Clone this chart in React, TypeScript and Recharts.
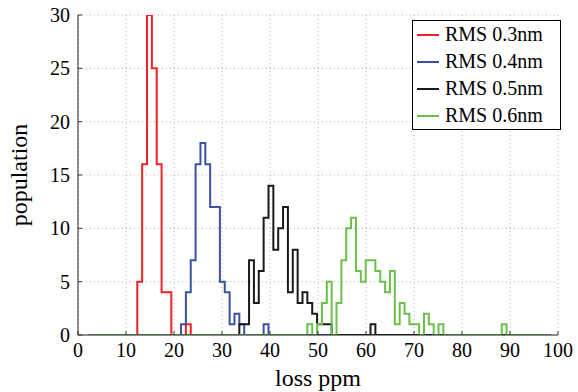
import React from 'react';
import { LineChart, Line, XAxis, YAxis, CartesianGrid, Legend } from 'recharts';

const FONT = '"Liberation Serif", "Times New Roman", serif';

// Histogram bin grid (x of left edge of bin k = BIN_START + k * BIN_WIDTH)
const BIN_START = 2.23;
const BIN_WIDTH = 1.0123;
const BIN_COUNT = 95;

const xTicks = [0, 10, 20, 30, 40, 50, 60, 70, 80, 90, 100];
const yTicks = [0, 5, 10, 15, 20, 25, 30];

const seriesKeys = ['r03', 'r04', 'r05', 'r06'];
const seriesNames = ['RMS 0.3nm', 'RMS 0.4nm', 'RMS 0.5nm', 'RMS 0.6nm'];
const seriesColors = ['#ec2227', '#3a53a6', '#1a1a1a', '#6cc04a'];

const redFirstBin = 10;
const redCounts = [5, 16, 30, 25, 16, 4, 4, 0, 0, 0, 1];

const blueFirstBin = 19;
const blueCounts = [1, 4, 7, 16, 18, 16, 12, 12, 5, 4, 1, 2, 1, 0, 0, 0, 0, 1];

const blackFirstBin = 31;
const blackCounts = [1, 1, 7, 3, 6, 11, 14, 8, 10, 12, 4, 8, 3, 4, 3, 2, 1, 1, 1, 0, 0, 0, 0, 0, 0, 0, 0, 1];

const greenFirstBin = 45;
const greenCounts = [1, 0, 1, 3, 5, 0, 3, 7, 10, 11, 6, 5, 7, 7, 6, 5, 4, 6, 1, 3, 2, 1, 1, 0, 2, 1, 0, 1,
  0, 0, 0, 0, 0, 0, 0, 0, 0, 0, 0, 0, 1];

const seriesFirst = [redFirstBin, blueFirstBin, blackFirstBin, greenFirstBin];
const seriesCounts = [redCounts, blueCounts, blackCounts, greenCounts];

const countAt = (s: number, k: number) => {
  const i = k - seriesFirst[s];
  const arr = seriesCounts[s];
  return i >= 0 && i < arr.length ? arr[i] : 0;
};

const data = Array.from({ length: BIN_COUNT + 1 }, (_, k) => {
  const row: Record<string, number> = { x: BIN_START + k * BIN_WIDTH };
  seriesKeys.forEach((key, s) => {
    row[key] = k < BIN_COUNT ? countAt(s, k) : 0;
  });
  return row;
});

const W = 578;
const H = 392;
const PLOT_LEFT = 78;
const PLOT_RIGHT = 558;
const PLOT_TOP = 15;
const PLOT_BOTTOM = 335;
const TICK_LEN = 4;

const bottomTick = (p: any) => (
  <g>
    <line x1={p.x} x2={p.x} y1={PLOT_BOTTOM} y2={PLOT_BOTTOM - TICK_LEN} stroke="#333" strokeWidth={1} />
    <text x={p.x} y={p.y} dy="0.71em" textAnchor="middle" fill="#000" fontFamily={FONT} fontSize={20}>
      {p.payload.value}
    </text>
  </g>
);

const leftTick = (p: any) => (
  <g>
    <line x1={PLOT_LEFT} x2={PLOT_LEFT + TICK_LEN} y1={p.y} y2={p.y} stroke="#333" strokeWidth={1} />
    <text x={p.x} y={p.y} dy="0.355em" textAnchor="end" fill="#000" fontFamily={FONT} fontSize={20}>
      {p.payload.value}
    </text>
  </g>
);

const topTick = (p: any) => (
  <line x1={p.x} x2={p.x} y1={PLOT_TOP} y2={PLOT_TOP + TICK_LEN} stroke="#333" strokeWidth={1} />
);

const rightTick = (p: any) => (
  <line x1={PLOT_RIGHT} x2={PLOT_RIGHT - TICK_LEN} y1={p.y} y2={p.y} stroke="#333" strokeWidth={1} />
);

const renderLegend = () => (
  <div
    style={{
      border: '1px solid #000',
      background: '#fff',
      width: 147,
      boxSizing: 'content-box',
      fontFamily: FONT,
      fontSize: 20,
      color: '#000',
    }}
  >
    {seriesNames.map((n, i) => (
      <div key={n} style={{ display: 'flex', alignItems: 'center', height: 27 }}>
        <div style={{ width: 22, height: 2, background: seriesColors[i], marginLeft: 4, marginRight: 6 }} />
        <span style={{ lineHeight: '27px', whiteSpace: 'nowrap' }}>{n}</span>
      </div>
    ))}
  </div>
);

const yLabel = () => (
  <text
    x={27}
    y={(PLOT_TOP + PLOT_BOTTOM) / 2}
    transform={`rotate(-90 27 ${(PLOT_TOP + PLOT_BOTTOM) / 2})`}
    textAnchor="middle"
    fill="#000"
    fontFamily={FONT}
    fontSize={24}
  >
    population
  </text>
);

const xLabel = () => (
  <text x={(PLOT_LEFT + PLOT_RIGHT) / 2} y={386} textAnchor="middle" fill="#000" fontFamily={FONT} fontSize={24}>
    loss ppm
  </text>
);

export default function App() {
  return (
    <div style={{ position: 'absolute', left: 0, top: 0, width: W, height: H, background: '#fff' }}>
      <LineChart
        width={W}
        height={H}
        data={data}
        margin={{ top: PLOT_TOP, right: W - PLOT_RIGHT, bottom: 0, left: 0 }}
      >
        <CartesianGrid stroke="#b5b5b5" strokeDasharray="1 3" verticalPoints={undefined} />
        <XAxis
          dataKey="x"
          type="number"
          domain={[0, 100]}
          ticks={xTicks}
          allowDataOverflow
          height={H - PLOT_BOTTOM}
          axisLine={{ stroke: '#222' }}
          tickLine={false}
          tick={bottomTick}
          label={{ content: xLabel }}
          interval={0}
        />
        <XAxis
          xAxisId="top"
          orientation="top"
          type="number"
          domain={[0, 100]}
          ticks={xTicks}
          allowDataOverflow
          height={0}
          axisLine={{ stroke: '#222' }}
          tickLine={false}
          tick={topTick}
          interval={0}
        />
        <YAxis
          type="number"
          domain={[0, 30]}
          ticks={yTicks}
          allowDataOverflow
          width={PLOT_LEFT}
          axisLine={{ stroke: '#222' }}
          tickLine={false}
          tick={leftTick}
          label={{ content: yLabel }}
          interval={0}
        />
        <YAxis
          yAxisId="right"
          orientation="right"
          type="number"
          domain={[0, 30]}
          ticks={yTicks}
          allowDataOverflow
          width={0}
          axisLine={{ stroke: '#222' }}
          tickLine={false}
          tick={rightTick}
          interval={0}
        />
        <Legend
          layout="vertical"
          align="center"
          verticalAlign="middle"
          content={renderLegend}
          wrapperStyle={{ left: 412, top: 20, width: 'auto', height: 'auto' }}
        />
        {seriesKeys.map((key, i) => (
          <Line
            key={key}
            dataKey={key}
            name={seriesNames[i]}
            type="stepAfter"
            stroke={seriesColors[i]}
            strokeWidth={2}
            dot={false}
            activeDot={false}
            isAnimationActive={false}
          />
        ))}
      </LineChart>
    </div>
  );
}
